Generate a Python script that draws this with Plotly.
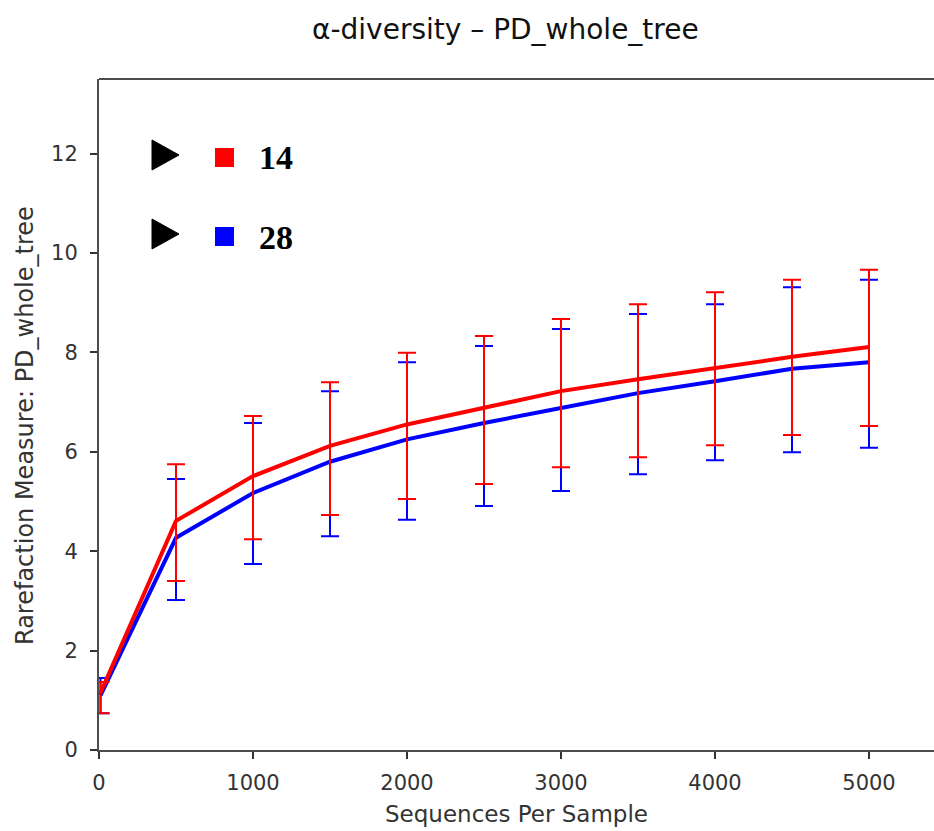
import plotly.graph_objects as go

# ---- data ----
seqs = [10, 500, 1000, 1500, 2000, 2500, 3000, 3500, 4000, 4500, 5000]

g14_mean = [1.15, 4.61, 5.51, 6.12, 6.55, 6.88, 7.22, 7.46, 7.69, 7.91, 8.11]
g14_upper = [1.37, 5.75, 6.72, 7.40, 7.99, 8.33, 8.67, 8.97, 9.21, 9.46, 9.66]
g14_lower = [0.74, 3.40, 4.24, 4.73, 5.05, 5.35, 5.69, 5.89, 6.13, 6.34, 6.52]

g28_mean = [1.10, 4.27, 5.17, 5.80, 6.25, 6.58, 6.88, 7.18, 7.42, 7.67, 7.80]
g28_upper = [1.45, 5.45, 6.58, 7.22, 7.80, 8.13, 8.47, 8.77, 8.97, 9.31, 9.46]
g28_lower = [0.74, 3.02, 3.74, 4.30, 4.63, 4.91, 5.21, 5.55, 5.83, 5.99, 6.08]

group_labels = ["14", "28"]
group_colors = ["#ff0000", "#0000ff"]

x_ticks = [0, 1000, 2000, 3000, 4000, 5000]
y_ticks = [0, 2, 4, 6, 8, 10, 12]

title_text = "\u03b1-diversity \u2013 PD_whole_tree"
x_title = "Sequences Per Sample"
y_title = "Rarefaction Measure: PD_whole_tree"

# ---- layout geometry ----
W, H = 934, 831
ML, MR, MT, MB = 99, 0, 79, 81
PW, PH = W - ML - MR, H - MT - MB
X_MAX = PW / 0.154  # 154 px per 1000 sequences
Y_MAX = 13.5


def px(x):
    return (x - ML) / PW


def py(y):
    return (H - MB - y) / PH


fig = go.Figure()

series = [
    (g28_mean, g28_upper, g28_lower, group_colors[1], group_labels[1]),
    (g14_mean, g14_upper, g14_lower, group_colors[0], group_labels[0]),
]
for mean, up, lo, col, name in series:
    fig.add_trace(go.Scatter(
        x=seqs, y=mean, mode="lines", name=name,
        line=dict(color=col, width=4),
        error_y=dict(
            type="data", symmetric=False,
            array=[u - m for u, m in zip(up, mean)],
            arrayminus=[m - l for m, l in zip(mean, lo)],
            color=col, thickness=2, width=9,
        ),
        showlegend=False,
    ))

# ---- custom legend (triangle, colored square, bold label) ----
shapes = []
annotations = []
legend_rows = [(group_labels[0], group_colors[0], 155), (group_labels[1], group_colors[1], 234)]
for lab, col, cy in legend_rows:
    path = "M {x0},{y0} L {x1},{y1} L {x0},{y2} Z".format(
        x0=px(152), y0=py(cy - 15), x1=px(179), y1=py(cy), y2=py(cy + 15))
    shapes.append(dict(type="path", xref="paper", yref="paper", path=path,
                       fillcolor="black", line=dict(color="black", width=1)))
    shapes.append(dict(type="rect", xref="paper", yref="paper",
                       x0=px(215), x1=px(234), y0=py(cy + 12), y1=py(cy - 7),
                       fillcolor=col, line=dict(width=0)))
    annotations.append(dict(text="<b>%s</b>" % lab, xref="paper", yref="paper",
                            x=px(257), y=py(cy + 3), xanchor="left", yanchor="middle",
                            showarrow=False,
                            font=dict(family="Liberation Serif", size=34, color="black")))

# title
annotations.append(dict(text=title_text, xref="paper", yref="paper",
                        x=px(505), y=py(30), xanchor="center", yanchor="middle",
                        showarrow=False,
                        font=dict(family="DejaVu Sans", size=28, color="#111111")))
# y axis title
annotations.append(dict(text=y_title, xref="paper", yref="paper",
                        x=px(25), y=py(426), xanchor="center", yanchor="middle",
                        textangle=-90, showarrow=False,
                        font=dict(family="DejaVu Sans", size=24, color="#333333")))

axis_common = dict(
    showline=True, linecolor="#4d4d4d", linewidth=2,
    ticks="outside", ticklen=7, tickwidth=1.5, tickcolor="#333333",
    showgrid=False, zeroline=False,
    tickfont=dict(family="DejaVu Sans", size=21, color="#333333"),
)

fig.update_layout(
    width=W, height=H,
    margin=dict(l=ML, r=MR, t=MT, b=MB, pad=0),
    paper_bgcolor="white", plot_bgcolor="white",
    shapes=shapes, annotations=annotations,
    xaxis=dict(range=[0, X_MAX], tickvals=x_ticks, mirror=False, ticklabelstandoff=6,
               title=dict(text=x_title, standoff=12,
                          font=dict(family="DejaVu Sans", size=23, color="#333333")),
               **axis_common),
    yaxis=dict(range=[0, Y_MAX], tickvals=y_ticks, mirror=False, ticklabelstandoff=8,
               **axis_common),
)

# top spine
fig.add_shape(type="line", xref="paper", yref="paper", x0=0, x1=1, y0=1, y1=1,
              line=dict(color="#4d4d4d", width=2))

fig.write_html("out.html")
